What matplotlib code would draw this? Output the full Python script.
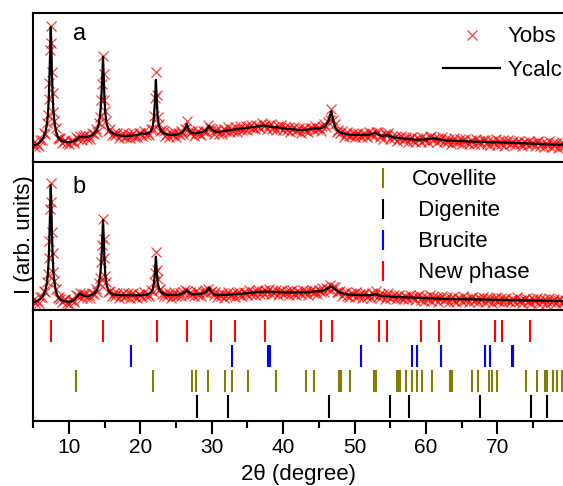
import matplotlib
matplotlib.use('Agg')
import matplotlib.pyplot as plt
from matplotlib.lines import Line2D
from matplotlib.ticker import MultipleLocator

plt.rcParams['font.family'] = ['Liberation Sans', 'DejaVu Sans']

# 2-theta positions of the calculated profiles (finer across the sharp peaks)
two_theta_calc = [
    5.0, 5.5, 6.0, 6.4, 6.7, 6.9, 7.05, 7.15, 7.25, 7.35, 7.44, 7.52, 7.6, 7.7, 7.8, 7.95, 8.15, 8.4, 8.8, 9.3,
    9.8, 10.3, 10.8, 11.2, 11.5, 11.8, 12.2, 12.7, 13.2, 13.6,
    13.9, 14.15, 14.35, 14.5, 14.63, 14.76, 14.86, 14.96, 15.08, 15.25,
    15.5, 15.8, 16.2, 16.7, 17.2, 17.7, 18.2, 18.7, 19.2, 19.7,
    20.1, 20.5, 21.0, 21.4, 21.7, 21.9, 22.05, 22.17, 22.27, 22.4,
    22.6, 22.9, 23.3, 23.8, 24.3, 24.8, 25.3, 25.8, 26.2, 26.5,
    26.8, 27.2, 27.7, 28.2, 28.7, 29.2, 29.6, 29.9, 30.3, 30.8,
    31.3, 31.8, 32.3, 32.8, 33.3, 33.8, 34.3, 34.8, 35.3, 35.8,
    36.3, 36.8, 37.3, 37.8, 38.3, 38.8, 39.3, 39.8, 40.3, 40.8,
    41.3, 41.8, 42.3, 42.8, 43.3, 43.8, 44.3, 44.8, 45.3, 45.8,
    46.2, 46.5, 46.75, 47.0, 47.3, 47.7, 48.1, 48.6, 49.1, 49.6,
    50.1, 50.6, 51.1, 51.6, 52.1, 52.5, 52.9, 53.3, 53.8, 54.2,
    54.6, 55.0, 55.5, 56.0, 56.5, 57.0, 57.5, 58.0, 58.5, 59.0,
    59.5, 60.0, 60.5, 61.0, 61.5, 62.0, 62.5, 63.0, 63.5, 64.0,
    64.5, 65.0, 65.5, 66.0, 66.5, 67.0, 67.5, 68.0, 68.5, 69.0,
    69.5, 70.0, 70.5, 71.0, 71.5, 72.0, 72.5, 73.0, 73.5, 74.0,
    74.5, 75.0, 75.5, 76.0, 76.5, 77.0, 77.5, 78.0, 78.5, 79.0,
    79.5, 80.0,
]
ycalc_a = [
    11.0, 11.6, 13.5, 16.0, 20.0, 25.0, 32.0, 41.0, 55.0, 74.0, 90.5, 79.0, 61.0, 45.0, 35.0, 27.0, 21.0, 17.0, 14.5, 13.5,
    13.2, 13.3, 14.0, 15.5, 16.8, 16.5, 16.5, 16.8, 17.8, 19.5,
    21.5, 25.0, 31.0, 40.0, 54.0, 70.5, 58.0, 43.0, 33.0, 26.0,
    22.0, 20.0, 18.8, 18.0, 17.5, 17.3, 17.3, 17.5, 17.8, 18.3,
    19.0, 18.7, 19.0, 20.0, 23.0, 30.0, 42.0, 55.0, 44.0, 31.0,
    24.0, 20.5, 19.0, 18.3, 18.0, 18.0, 18.5, 19.5, 21.5, 25.5,
    21.0, 19.2, 19.0, 19.5, 20.0, 21.0, 24.0, 22.0, 20.5, 20.0,
    20.3, 20.7, 21.0, 21.3, 21.7, 22.0, 22.3, 22.7, 23.0, 23.3,
    23.7, 24.0, 24.3, 24.0, 23.5, 23.2, 23.0, 22.6, 22.3, 22.0,
    21.8, 21.5, 21.3, 21.3, 21.5, 22.0, 22.5, 22.3, 22.5, 23.5,
    26.0, 30.0, 34.0, 28.0, 23.0, 20.5, 19.5, 18.8, 18.3, 18.0,
    18.0, 18.0, 18.0, 18.0, 18.2, 18.8, 19.5, 18.3, 17.3, 17.5,
    18.0, 17.0, 16.3, 16.0, 15.8, 15.5, 15.2, 15.0, 14.8, 14.8,
    14.8, 15.0, 15.3, 15.7, 15.3, 14.8, 14.5, 14.2, 14.1, 14.0,
    13.9, 13.8, 13.7, 13.6, 13.5, 13.4, 13.4, 13.3, 13.2, 13.1,
    13.0, 13.0, 12.9, 12.8, 12.8, 12.7, 12.6, 12.5, 12.4, 12.3,
    12.2, 12.1, 12.0, 11.9, 11.8, 11.7, 11.6, 11.5, 11.4, 11.3,
    11.2, 11.1,
]
ycalc_b = [
    5.5, 6.0, 7.5, 10.0, 13.5, 18.0, 25.0, 34.0, 48.0, 67.0, 84.3, 72.0, 53.0, 37.0, 27.0, 19.0, 13.0, 9.5, 7.0, 6.0,
    5.6, 5.8, 7.0, 9.5, 11.2, 10.0, 9.4, 9.5, 10.2, 11.5,
    13.5, 17.0, 22.5, 31.0, 45.0, 60.7, 49.0, 34.0, 24.0, 17.5,
    13.5, 11.5, 10.5, 10.1, 10.0, 10.0, 10.0, 10.0, 10.0, 10.0,
    10.0, 10.0, 10.5, 11.5, 13.5, 18.0, 26.0, 36.0, 28.0, 19.5,
    14.5, 12.0, 10.8, 10.2, 10.1, 10.1, 10.3, 11.0, 12.0, 13.5,
    11.8, 10.6, 10.6, 10.8, 11.2, 12.2, 15.0, 12.5, 10.5, 10.1,
    10.1, 10.2, 10.3, 10.5, 10.7, 10.9, 11.1, 11.3, 11.5, 11.8,
    12.0, 12.2, 12.4, 12.4, 12.3, 12.2, 12.0, 11.9, 11.9, 11.9,
    11.9, 11.9, 11.9, 11.9, 12.0, 12.1, 12.4, 12.8, 12.6, 13.5,
    14.5, 15.5, 15.7, 15.0, 13.8, 12.5, 11.5, 10.8, 10.5, 10.3,
    10.2, 10.1, 10.0, 10.0, 10.0, 10.2, 10.8, 9.9, 9.5, 9.3,
    9.6, 9.0, 8.9, 8.8, 8.7, 8.6, 8.5, 8.4, 8.3, 8.2,
    8.1, 8.0, 7.9, 7.8, 7.7, 7.6, 7.5, 7.4, 7.4, 7.3,
    7.3, 7.3, 7.2, 7.2, 7.2, 7.1, 7.1, 7.0, 7.0, 6.9,
    6.9, 6.8, 6.8, 6.7, 6.7, 6.6, 6.6, 6.5, 6.5, 6.4,
    6.4, 6.4, 6.3, 6.3, 6.3, 6.2, 6.2, 6.1, 6.1, 6.0,
    6.0, 6.0,
]

# 2-theta positions of the measured points
two_theta_obs = [
    5.0, 5.25, 5.5, 5.75, 6.0, 6.25, 6.5, 6.7, 6.9, 7.05, 7.15, 7.25, 7.35, 7.44, 7.52, 7.6, 7.7, 7.8, 7.95, 8.15,
    8.4, 8.6, 8.8, 9.0,
    9.25, 9.5, 9.75, 10.0, 10.25, 10.5, 10.75, 11.0, 11.25, 11.5, 11.75, 12.0, 12.25, 12.5, 12.75, 13.0, 13.25,
    13.5, 13.75,
    13.9, 14.15, 14.35, 14.5, 14.63, 14.76, 14.86, 14.96, 15.08, 15.25, 15.5, 15.75,
    16.0, 16.25, 16.5, 16.75, 17.0, 17.25, 17.5, 17.75, 18.0, 18.25, 18.5, 18.75, 19.0, 19.25, 19.5, 19.75,
    20.0, 20.25, 20.5, 20.75, 21.0, 21.25,
    21.5, 21.7, 21.9, 22.05, 22.17, 22.27, 22.4, 22.6, 22.8, 23.0,
    23.25, 23.5, 23.75, 24.0, 24.25, 24.5, 24.75, 25.0, 25.25, 25.5,
    25.75, 26.0, 26.25, 26.5, 26.75, 27.0, 27.25, 27.5, 27.75, 28.0,
    28.25, 28.5, 28.75, 29.0, 29.25, 29.5, 29.75, 30.0, 30.25, 30.5,
    30.75, 31.0, 31.25, 31.5, 31.75, 32.0, 32.25, 32.5, 32.75, 33.0,
    33.25, 33.5, 33.75, 34.0, 34.25, 34.5, 34.75, 35.0, 35.25, 35.5,
    35.75, 36.0, 36.25, 36.5, 36.75, 37.0, 37.25, 37.5, 37.75, 38.0,
    38.25, 38.5, 38.75, 39.0, 39.25, 39.5, 39.75, 40.0, 40.25, 40.5,
    40.75, 41.0, 41.25, 41.5, 41.75, 42.0, 42.25, 42.5, 42.75, 43.0,
    43.25, 43.5, 43.75, 44.0, 44.25, 44.5, 44.75, 45.0, 45.25, 45.5,
    45.75, 46.0, 46.25, 46.5, 46.75, 47.0, 47.25, 47.5, 47.75, 48.0,
    48.25, 48.5, 48.75, 49.0, 49.25, 49.5, 49.75, 50.0, 50.25, 50.5,
    50.75, 51.0, 51.25, 51.5, 51.75, 52.0, 52.25, 52.5, 52.75, 53.0,
    53.25, 53.5, 53.75, 54.0, 54.25, 54.5, 54.75, 55.0, 55.25, 55.5,
    55.75, 56.0, 56.25, 56.5, 56.75, 57.0, 57.25, 57.5, 57.75, 58.0,
    58.25, 58.5, 58.75, 59.0, 59.25, 59.5, 59.75, 60.0, 60.25, 60.5,
    60.75, 61.0, 61.25, 61.5, 61.75, 62.0, 62.25, 62.5, 62.75, 63.0,
    63.25, 63.5, 63.75, 64.0, 64.25, 64.5, 64.75, 65.0, 65.25, 65.5,
    65.75, 66.0, 66.25, 66.5, 66.75, 67.0, 67.25, 67.5, 67.75, 68.0,
    68.25, 68.5, 68.75, 69.0, 69.25, 69.5, 69.75, 70.0, 70.25, 70.5,
    70.75, 71.0, 71.25, 71.5, 71.75, 72.0, 72.25, 72.5, 72.75, 73.0,
    73.25, 73.5, 73.75, 74.0, 74.25, 74.5, 74.75, 75.0, 75.25, 75.5,
    75.75, 76.0, 76.25, 76.5, 76.75, 77.0, 77.25, 77.5, 77.75, 78.0,
    78.25, 78.5, 78.75, 79.0, 79.25, 79.5, 79.75, 80.0,
]
yobs_a = [
    12.6, 10.1, 12.0, 10.4, 14.6, 14.7, 19.0, 18.5, 25.8, 31.3, 42.4, 53.0, 75.2, 91.5, 79.8, 60.3, 46.4, 33.3, 27.6, 22.5,
    16.1, 15.1, 15.7, 12.3,
    14.1, 14.8, 12.3, 11.6, 14.2, 13.8, 12.7, 16.6, 15.1, 17.3, 14.7, 17.5, 18.1, 15.4, 17.2, 15.4, 19.0,
    18.7, 22.3,
    20.0, 25.8, 30.3, 41.4, 52.0, 71.2, 59.0, 41.6, 33.8, 27.4, 20.8, 21.8,
    17.9, 19.6, 17.7, 19.4, 15.7, 17.7, 19.2, 16.3, 16.9, 18.5, 15.7, 18.1, 19.1, 16.9, 16.5, 19.3,
    19.2, 17.6, 20.6, 18.2, 19.5, 17.8,
    21.8, 22.0, 31.0, 43.0, 60.5, 45.0, 30.0, 25.2, 20.4, 21.4,
    20.8, 17.6, 18.8, 16.3, 19.1, 17.7, 20.0, 16.7, 19.2, 18.2,
    20.8, 18.3, 22.2, 27.3, 20.8, 19.6, 20.4, 17.4, 19.6, 20.8,
    18.6, 18.2, 20.9, 20.8, 20.0, 24.9, 22.9, 22.1, 18.9, 21.3,
    21.6, 18.9, 20.7, 18.6, 21.8, 20.5, 23.0, 19.7, 22.1, 20.8,
    23.1, 19.8, 22.2, 23.9, 21.3, 22.1, 23.9, 21.1, 23.6, 24.6,
    22.4, 21.9, 24.6, 24.1, 22.7, 26.0, 23.7, 24.7, 22.2, 24.8,
    25.1, 22.2, 23.6, 21.2, 24.1, 22.5, 24.6, 21.0, 23.1, 21.5,
    23.4, 19.9, 22.0, 23.5, 20.5, 21.0, 22.5, 19.6, 21.9, 22.9,
    20.6, 20.1, 22.9, 22.5, 21.2, 24.3, 21.7, 22.9, 20.7, 23.9,
    25.1, 23.3, 26.9, 28.1, 35.1, 27.7, 25.5, 20.0, 21.2, 19.0,
    20.7, 16.9, 18.8, 20.2, 17.2, 17.6, 19.2, 16.3, 18.6, 19.5,
    17.1, 16.4, 18.9, 18.3, 16.7, 20.0, 17.8, 19.3, 17.5, 20.2,
    20.0, 16.6, 17.8, 15.4, 18.7, 17.7, 19.6, 15.5, 17.4, 15.6,
    17.5, 14.0, 16.1, 17.6, 14.6, 15.1, 16.5, 13.5, 15.7, 16.5,
    14.0, 13.2, 15.7, 15.1, 13.5, 16.7, 14.3, 15.5, 13.3, 16.3,
    17.1, 14.5, 15.9, 13.4, 16.1, 14.5, 16.6, 13.0, 15.1, 13.5,
    15.5, 12.1, 14.2, 15.8, 13.0, 13.5, 15.0, 12.1, 14.4, 15.2,
    12.8, 12.0, 14.5, 13.8, 12.2, 15.3, 12.8, 13.9, 11.6, 14.3,
    14.9, 12.0, 13.6, 11.2, 14.2, 12.7, 15.0, 11.5, 13.8, 12.2,
    14.3, 10.8, 13.0, 14.6, 11.8, 12.3, 13.9, 10.9, 13.2, 14.0,
    11.6, 10.8, 13.3, 12.6, 11.0, 14.1, 11.6, 12.6, 10.3, 13.0,
    13.6, 10.7, 12.3, 9.9, 12.9, 11.4, 13.7, 10.1, 12.4, 10.8,
    12.9, 9.4, 11.6, 13.1, 10.3, 10.8, 12.4, 9.4,
]
yobs_b = [
    6.9, 4.6, 6.4, 5.0, 8.6, 8.7, 12.5, 12.4, 18.8, 24.3, 35.4, 46.5, 68.0, 85.8, 72.8, 52.3, 38.4, 25.7, 19.6, 14.0,
    8.0, 9.0, 7.4, 5.2,
    6.6, 7.3, 4.7, 4.0, 6.7, 6.5, 5.6, 10.1, 9.2, 11.7, 8.4, 10.6, 11.0, 8.2, 9.9, 7.9, 11.4,
    10.8, 14.3,
    12.2, 18.0, 21.6, 32.2, 44.0, 61.5, 48.0, 35.3, 22.9, 18.7, 12.4, 12.9,
    9.5, 11.3, 9.6, 11.5, 8.0, 10.2, 11.8, 9.0, 9.6, 11.2, 8.3, 10.6, 11.5, 9.1, 8.4, 10.9,
    10.3, 8.7, 11.9, 9.6, 11.0, 9.2,
    13.2, 12.4, 19.0, 25.0, 39.3, 27.0, 20.6, 13.4, 13.9, 10.8,
    9.5, 11.4, 9.6, 11.6, 8.1, 10.3, 11.9, 9.2, 9.9, 11.8,
    9.2, 12.1, 13.7, 12.6, 10.4, 12.0, 10.9, 9.3, 12.5, 10.1,
    11.3, 9.2, 12.2, 13.3, 11.2, 14.4, 12.4, 13.1, 10.4, 12.3,
    8.6, 10.9, 9.4, 11.5, 8.2, 10.4, 12.1, 9.4, 10.1, 11.8,
    9.0, 11.4, 12.4, 10.1, 9.5, 12.1, 11.6, 10.1, 13.4, 11.0,
    12.3, 10.1, 13.0, 13.7, 11.0, 12.7, 10.5, 13.5, 12.1, 14.4,
    10.8, 13.1, 11.5, 13.5, 10.0, 12.2, 13.7, 10.9, 11.5, 13.1,
    10.2, 12.5, 13.4, 11.0, 10.3, 12.8, 12.2, 10.6, 13.8, 11.3,
    12.5, 10.2, 13.1, 13.8, 11.2, 13.1, 10.9, 13.8, 12.3, 14.9,
    12.0, 15.0, 13.9, 16.9, 13.7, 15.2, 15.8, 12.1, 12.0, 13.0,
    9.6, 11.5, 12.2, 9.6, 8.8, 11.2, 10.6, 8.9, 12.1, 9.5,
    10.6, 8.2, 11.0, 11.6, 8.8, 10.4, 8.1, 11.3, 10.3, 12.6,
    8.5, 10.6, 8.9, 10.8, 7.3, 9.7, 11.2, 8.0, 8.6, 10.1,
    7.2, 9.4, 10.3, 7.8, 7.1, 9.5, 8.9, 7.2, 10.4, 7.8,
    8.9, 6.5, 9.3, 9.8, 7.0, 8.5, 6.2, 9.1, 7.7, 9.9,
    6.4, 8.6, 7.1, 9.1, 5.7, 7.8, 9.4, 6.5, 7.1, 8.6,
    5.7, 8.0, 8.9, 6.4, 5.7, 8.2, 7.6, 6.0, 9.2, 6.6,
    7.7, 5.4, 8.2, 8.8, 6.0, 7.5, 5.2, 8.2, 6.8, 9.0,
    5.5, 7.8, 6.3, 8.3, 4.9, 7.1, 8.7, 5.8, 6.4, 8.0,
    5.1, 7.3, 8.2, 5.8, 5.1, 7.5, 6.9, 5.3, 8.5, 5.9,
    7.0, 4.7, 7.5, 8.0, 5.2, 6.8, 4.5, 7.5, 6.1, 8.3,
    4.8, 7.1, 5.6, 7.7, 4.3, 6.4, 8.0, 5.2, 5.8, 7.3,
    4.4, 6.7, 7.6, 5.1, 4.4, 6.9, 6.3, 4.7,
]

# Bragg reflection positions (2theta) for each phase
new_phase_pos = [7.44, 14.8, 22.3, 26.5, 29.85, 33.26, 37.46, 45.3, 46.8, 53.43, 54.5,
                 59.3, 61.84, 69.68, 70.62, 74.6]
brucite_pos = [18.7, 32.9, 37.84, 38.16, 50.95, 58.0, 58.8, 62.16, 68.28, 68.98, 72.0, 72.25]
covellite_pos = [10.94, 21.8, 27.2, 27.75, 29.4, 31.86, 32.9, 35.1, 38.96, 43.2, 44.37,
                 47.83, 48.06, 49.37, 52.75, 53.05, 55.9, 56.1, 56.4, 57.17, 58.0, 58.7,
                 59.4, 60.8, 63.38, 63.6, 66.5, 67.34, 68.84, 69.2, 70.0, 74.03, 75.52,
                 76.7, 77.0, 77.76, 78.4, 79.1]
digenite_pos = [27.9, 32.3, 46.42, 54.97, 57.68, 67.58, 74.72, 76.92]

olive = '#808000'

fig = plt.figure(figsize=(5.63, 4.86), dpi=100)
left, width = 0.0592, 0.9408
ax_a = fig.add_axes([left, 0.6673, width, 0.306])
ax_b = fig.add_axes([left, 0.3621, width, 0.3051])
ax_c = fig.add_axes([left, 0.1337, width, 0.2284])

for ax, yobs, ycalc in [(ax_a, yobs_a, ycalc_a), (ax_b, yobs_b, ycalc_b)]:
    ax.plot(two_theta_obs, yobs, ls='none', marker='x', ms=7, mew=0.9,
            color='red', alpha=0.75, label='Yobs')
    ax.plot(two_theta_calc, ycalc, color='black', lw=1.6, label='Ycalc')
    ax.set_ylim(0, 100)

# tick rows: black at the bottom, red on top
rows = [(digenite_pos, 'black'), (covellite_pos, olive),
        (brucite_pos, 'blue'), (new_phase_pos, 'red')]
for k, (pos, col) in enumerate(rows):
    base = 0.03 + 0.227 * k
    ax_c.vlines(pos, base, base + 0.2, color=col, lw=1.5)
ax_c.set_ylim(0, 1)

for ax in (ax_a, ax_b, ax_c):
    ax.set_xlim(5, 79.2)
    ax.set_yticks([])
    for s in ax.spines.values():
        s.set_linewidth(1.5)
    ax.spines['right'].set_visible(False)

for ax in (ax_a, ax_b):
    ax.tick_params(axis='x', which='both', bottom=False, labelbottom=False)

ax_c.xaxis.set_major_locator(MultipleLocator(10))
ax_c.xaxis.set_minor_locator(MultipleLocator(5))
ax_c.tick_params(axis='x', which='major', direction='out', length=9, width=1.5,
                 labelsize=15, pad=3)
ax_c.tick_params(axis='x', which='minor', direction='out', length=5, width=1.5)
ax_c.set_xlabel('2\u03b8 (degree)', fontsize=16, labelpad=5.5)

ax_a.text(0.074, 0.82, 'a', transform=ax_a.transAxes, fontsize=17)
ax_b.text(0.074, 0.787, 'b', transform=ax_b.transAxes, fontsize=17)

ax_a.legend(loc='upper right', bbox_to_anchor=(0.998, 0.91), frameon=False,
            fontsize=16, borderpad=0, borderaxespad=0, handlelength=2.6,
            handletextpad=0.3, labelspacing=0.56)

phase_handles = [Line2D([], [], ls='none', marker='|', ms=14.5, mew=1.5, color=c)
                 for c in (olive, 'black', 'blue', 'red')]
ax_b.legend(phase_handles, ['Covellite', ' Digenite', ' Brucite', ' New phase'],
            loc='upper left', bbox_to_anchor=(0.639, 0.948), frameon=False,
            fontsize=16, borderpad=0, borderaxespad=0, handlelength=1.0,
            handletextpad=0.8, labelspacing=0.45)

fig.text(0.043, 1 - 235 / 486, 'I (arb. units)', rotation=90, fontsize=16,
         ha='center', va='center')

fig.savefig('out.png', dpi=100)
